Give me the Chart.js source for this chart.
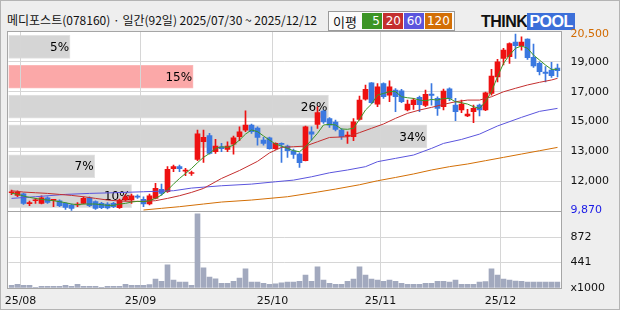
<!DOCTYPE html>
<html>
<head>
<meta charset="utf-8">
<script src="https://cdn.jsdelivr.net/npm/chart.js@4.4.1/dist/chart.umd.min.js"></script>
<style>
  html, body { margin: 0; padding: 0; }
  body { width: 620px; height: 310px; position: relative; overflow: hidden; background: #eeeeee; }
  #outer { position: absolute; left: 0; top: 0; width: 618px; height: 308px; border: 1px solid #b4b4b4; }
  .panel { position: absolute; left: 7px; width: 553px; background: #fff; border: 1px solid #a6a6a6; }
  #pricePanel { top: 31px; height: 179px; }
  #volPanel { top: 211px; height: 76px; }
  canvas { position: absolute; left: 0; top: 0; }
  #title { position: absolute; left: 7px; top: 12px; font: 12px "Noto Sans CJK KR", sans-serif; color: #111; white-space: nowrap; line-height: 16px; }
  #legend { position: absolute; left: 328px; top: 11px; height: 18px; border: 1px solid #9a9a9a; background: #fbfbfb;
            display: flex; align-items: center; padding: 0 2px 0 0; font: 12px "DejaVu Sans", sans-serif; }
  #legend .lbl { margin: 0 4px 0 4px; font: 13px "Noto Sans CJK KR", sans-serif; color: #111; }
  #legend .cell { color: #fff; height: 16px; line-height: 16px; text-align: right; padding: 0 2px; margin-left: 1px; min-width: 16px; }
  #logo { position: absolute; left: 481px; top: 13px; font: bold 16px "Liberation Sans", sans-serif; letter-spacing: -0.5px; line-height: 17px; }
  #logo .think { color: #111; }
  #logo .pool { color: #fff; background: #3c6fd9; padding: 0 2px; }
</style>
</head>
<body>
<div id="outer"></div>
<div id="pricePanel" class="panel"></div>
<div id="volPanel" class="panel"></div>
<div id="title">메디포스트(078160) · 일간(92일) 2025/07/30 ~ 2025/12/12</div>
<div id="legend"><span class="lbl">이평</span></div>
<div id="logo"><span class="think">THINK</span><span class="pool">POOL</span></div>
<canvas id="profile" width="620" height="310"></canvas>
<canvas id="price" width="620" height="310"></canvas>
<canvas id="vol" width="620" height="310"></canvas>
<script>
// trading days shown (2025/07/30 ~ 2025/12/12, 92 days)
const year = '25';
const days = ['07/30','07/31',
  '08/01','08/04','08/05','08/06','08/07','08/08','08/11','08/12','08/13','08/14',
  '08/18','08/19','08/20','08/21','08/22','08/25','08/26','08/27','08/28','08/29',
  '09/01','09/02','09/03','09/04','09/05','09/08','09/09','09/10','09/11','09/12',
  '09/15','09/16','09/17','09/18','09/19','09/22','09/23','09/24','09/25','09/26','09/29','09/30',
  '10/01','10/02','10/10','10/13','10/14','10/15','10/16','10/17','10/20','10/21',
  '10/22','10/23','10/24','10/27','10/28','10/29','10/30','10/31',
  '11/03','11/04','11/05','11/06','11/07','11/10','11/11','11/12','11/13','11/14',
  '11/17','11/18','11/19','11/20','11/21','11/24','11/25','11/26','11/27','11/28',
  '12/01','12/02','12/03','12/04','12/05','12/08','12/09','12/10','12/11','12/12'];

const open = [10940,10780,10880,10280,10460,10300,10640,10480,10460,10300,
  10200,10200,10300,10640,10400,10300,10260,10300,10040,10500,
  10500,10720,10540,10260,10600,11140,11000,12390,12510,12240,
  12100,12950,14010,14380,13410,13710,13550,13870,14310,14710,
  15010,14830,14110,14250,13590,13870,13750,13470,13270,12870,
  14610,15050,15860,15410,15190,14710,14350,14310,15350,16580,
  17560,16280,17520,16820,17120,17080,15920,16240,16680,16200,
  16880,16620,16120,17200,16220,15920,15560,15820,16220,15920,
  16920,17920,19030,19130,20010,19790,20190,19090,18730,18210,
  18330,18450];
const high = [11100,11060,10920,10440,10600,10760,10700,10540,10520,10340,
  10260,10340,10700,10700,10460,10360,10340,10360,10560,10820,
  10860,10820,10700,10860,11500,11460,12510,12610,12610,12410,
  12250,14720,14720,14520,14160,13910,14010,14350,14910,15880,
  15070,14910,14270,14290,13950,13950,13810,13570,13350,14950,
  14910,16120,15920,15470,15310,14810,14610,15410,16760,17420,
  17580,17520,17560,17680,17220,17160,16520,16620,16760,17120,
  17520,16720,17180,17260,16620,16520,15960,16220,16280,17000,
  18370,18970,19630,19970,20500,20330,20210,19890,18830,18530,
  18790,18690];
const low = [10820,10700,10240,10160,10300,10260,10300,10100,10100,9940,
  9870,10100,10260,10100,9940,9980,9960,10040,10000,10440,
  10300,10600,10100,10200,10560,10800,10960,12210,12210,11970,
  11990,12870,12770,13270,13310,13410,13410,13270,14070,14610,
  14510,13810,13810,13570,13550,12770,13070,13010,12470,12850,
  14110,14810,15110,14870,14670,14150,13910,14070,15310,16520,
  16320,16120,16620,16420,15820,16360,15860,15960,15820,16120,
  16220,15600,15920,16480,15280,15760,15520,15160,15560,15880,
  16820,17620,18630,18730,19030,19530,18970,18490,18030,17620,
  17880,17920];
const close = [11000,10980,10300,10310,10500,10640,10360,10520,10160,10060,
  10000,10230,10600,10160,10000,10040,10020,10100,10500,10700,
  10760,10680,10260,10760,11200,10900,12350,12510,12390,12270,
  12130,14480,14280,13310,13750,13590,13750,14250,14610,15010,
  14610,14270,13910,13590,13910,13850,13470,13250,12750,14910,
  14470,15760,15210,15010,14750,14310,14390,15210,16520,17160,
  16360,17320,16720,17320,16720,16420,16280,16520,16240,16860,
  16800,16020,17060,16620,15820,16280,15680,16020,15920,16960,
  17960,18830,19530,19930,19790,20010,19070,18570,18230,18130,
  17990,18290];

// volume, x1000 shares
const volume = [47,65,47,47,12,29,29,29,29,47,
  29,65,29,29,29,12,29,29,29,65,
  47,47,47,59,153,117,399,135,100,100,
  47,1280,346,188,160,82,82,117,170,329,
  100,100,82,65,70,88,100,100,117,223,
  117,364,135,82,65,65,117,153,364,223,
  153,135,117,135,117,82,65,65,65,82,
  82,117,117,100,135,65,65,65,100,110,
  329,223,153,135,120,117,100,100,100,100,
  100,100];

// moving averages (null = not read, line spans the gap)
const ma5 = [10900,10860,10740,10660,10600,10540,10500,10460,10400,10340,
  10260,10220,10260,10260,10260,10220,10180,10180,10260,10300,
  10380,10420,10400,10460,10600,10800,11100,11460,11800,12100,
  12400,12750,13070,13310,13610,13710,13670,13810,14110,14470,
  14720,14620,14360,14110,13870,13750,13610,13470,13410,13710,
  14110,14520,15020,15060,15020,14780,14760,14820,15360,15920,
  16280,16820,16920,17030,17030,16720,16660,16620,16520,16480,
  16560,16520,16620,16620,16420,16360,16280,16120,16020,16420,
  17030,17930,18730,19230,19640,19780,19640,19230,18930,18630,
  18370,18370];
const ma20 = [11060,null,10980,null,10940,null,10900,null,10840,null,
  10780,null,10700,null,10600,null,10500,null,10440,null,
  10420,null,10420,null,10460,null,10600,null,10760,null,
  10960,null,11200,null,null,11800,null,null,12280,null,
  null,12830,null,13340,null,13670,null,13710,null,13750,
  null,14010,null,14270,null,null,14310,null,14560,null,
  14820,null,15080,null,15420,null,15720,null,15920,null,
  16080,null,16260,null,16420,null,16520,null,16520,null,
  16720,null,17020,null,17230,null,17430,null,17590,null,
  17730,17830];
const ma60 = [10600,null,null,null,10700,null,null,null,null,10840,
  null,null,null,10900,null,null,null,10940,null,null,
  null,null,11000,null,null,null,null,11060,null,null,
  11220,null,null,null,null,11360,null,null,null,null,
  11460,null,null,null,11600,null,null,11700,null,null,
  11900,null,null,12140,null,null,12310,null,null,12510,
  null,12810,null,null,13010,null,null,13210,null,null,
  13610,null,13910,null,null,14150,null,null,14470,null,
  null,14960,null,null,null,15480,null,null,15840,null,
  null,16020];
const ma120 = [null,null,null,null,null,null,null,null,null,null,
  null,null,null,null,null,null,null,null,null,null,
  null,null,9900,null,null,10000,null,null,10100,null,
  null,null,10260,null,null,10380,null,null,null,null,
  10500,null,null,null,null,null,10700,null,null,null,
  null,10980,null,null,11160,null,null,null,11420,null,
  null,11660,null,null,11860,null,null,12070,null,null,
  12310,null,null,12510,null,null,12670,null,null,12870,
  null,null,13070,null,null,13270,null,null,13470,null,
  null,13670];

const maNames = ['5', '20', '60', '120'];
const maColors = ['#3c9426', '#c42f2f', '#5b55dd', '#d36f06'];
const maData = [ma5, ma20, ma60, ma120];

// volume by price: share per price band, top band first
const profilePct = [5, 15, 26, 34, 7, 10];

// right axis labels
const priceTicks = [9870, 11637, 13433, 15230, 17027, 18823, 20500];
const priceTickLabels = ['9,870', '12,000', '13,000', '15,000', '17,000', '19,000', '20,500'];
const volumeTicks = [0, 441, 872];
const volumeTickLabels = ['x1000', '441', '872'];

const PRICE_MIN = 9840, PRICE_MAX = 20620;
const UP = '#ee1111', DOWN = '#3a78e0';
const tickFont = { family: 'DejaVu Sans', size: 11 };

Chart.defaults.animation = false;
Chart.defaults.responsive = false;
Chart.defaults.devicePixelRatio = 1;
Chart.defaults.plugins.legend.display = false;
Chart.defaults.plugins.tooltip.enabled = false;

// legend boxes in the header
const legend = document.getElementById('legend');
maNames.forEach((n, i) => {
  const s = document.createElement('span');
  s.className = 'cell';
  s.style.background = maColors[i];
  s.textContent = n;
  legend.appendChild(s);
});

function isMonthStart(i) {
  return i > 0 && i < days.length && days[i].slice(0, 2) !== days[i - 1].slice(0, 2);
}
const monthGrid = c => isMonthStart(c.index) ? '#d6d6d6' : 'rgba(0,0,0,0)';
const candleColor = days.map((d, i) => close[i] >= open[i] ? UP : DOWN);

// volume-by-price bars behind the candles
const bandSize = (PRICE_MAX - PRICE_MIN) / profilePct.length;
const currentBand = Math.floor((PRICE_MAX - close[close.length - 1]) / bandSize);

const profileLabels = {
  id: 'profileLabels',
  afterDatasetsDraw(chart) {
    const ctx = chart.ctx;
    ctx.save();
    ctx.font = '12px "DejaVu Sans"';
    ctx.fillStyle = '#000';
    ctx.textAlign = 'right';
    ctx.textBaseline = 'middle';
    chart.getDatasetMeta(0).data.forEach((bar, i) => {
      ctx.fillText(profilePct[i] + '%', bar.x - 1, bar.y + 1);
    });
    ctx.restore();
  }
};

new Chart(document.getElementById('profile'), {
  type: 'bar',
  data: {
    labels: profilePct.map((p, i) => 'band' + i),
    datasets: [{
      data: profilePct,
      backgroundColor: profilePct.map((p, i) => i === currentBand ? '#fba8a8' : '#d5d5d5'),
      borderColor: profilePct.map((p, i) => i === currentBand ? '#fbb8b8' : '#e2e2e2'),
      borderWidth: 1,
      borderSkipped: false,
      barThickness: 23
    }]
  },
  options: {
    indexAxis: 'y',
    layout: { padding: { left: 8.5, right: 59.5, top: 32, bottom: 99 } },
    scales: {
      x: { display: false, min: 0, max: 44.85 },
      y: { display: false }
    }
  },
  plugins: [profileLabels]
});

// candles + moving averages
new Chart(document.getElementById('price'), {
  type: 'bar',
  data: {
    labels: days,
    datasets: [
      ...maData.map((d, k) => ({
        type: 'line',
        data: d,
        borderColor: maColors[k],
        borderWidth: 1,
        pointRadius: 0,
        spanGaps: true,
        tension: 0,
        order: 0
      })),
      {
        data: days.map((d, i) => [low[i], high[i]]),
        backgroundColor: candleColor,
        barThickness: 1,
        grouped: false,
        order: 2
      },
      {
        data: days.map((d, i) => [open[i], close[i]]),
        backgroundColor: candleColor,
        barThickness: 5,
        minBarLength: 1,
        grouped: false,
        order: 1
      }
    ]
  },
  options: {
    layout: { padding: { left: 8.5, right: 0, top: 32, bottom: 99 } },
    scales: {
      x: {
        offset: true,
        grid: { offset: true, drawTicks: false, color: monthGrid },
        border: { display: false },
        ticks: { display: false, autoSkip: false },
        afterFit: s => { s.height = 0; }
      },
      y: {
        position: 'right',
        min: PRICE_MIN,
        max: PRICE_MAX,
        afterBuildTicks: s => { s.ticks = priceTicks.map(v => ({ value: v })); },
        ticks: {
          padding: 10,
          font: tickFont,
          callback: (v, i) => priceTickLabels[i],
          color: c => c.index === priceTicks.length - 1 ? '#d26a00' : (c.index === 0 ? '#1a1ae6' : '#111')
        },
        grid: {
          drawTicks: false,
          color: c => (c.index === 0 || c.index === priceTicks.length - 1) ? 'rgba(0,0,0,0)' : '#d6d6d6'
        },
        border: { display: false },
        afterFit: s => { s.width = 59.5; }
      }
    }
  }
});

// volume
new Chart(document.getElementById('vol'), {
  type: 'bar',
  data: {
    labels: days,
    datasets: [{ data: volume, backgroundColor: '#a2a9be', barThickness: 5 }]
  },
  options: {
    layout: { padding: { left: 8.5, right: 0, top: 212, bottom: 0 } },
    scales: {
      x: {
        offset: true,
        grid: { offset: true, drawTicks: false, color: monthGrid },
        border: { display: false },
        ticks: {
          autoSkip: false, maxRotation: 0, minRotation: 0, padding: 7, labelOffset: -3,
          font: tickFont, color: '#111',
          callback: (v, i) => isMonthStart(i) ? year + '/' + days[i].slice(0, 2) : ''
        },
        afterFit: s => { s.height = 22; }
      },
      y: {
        position: 'right',
        min: 0,
        max: 1310,
        afterBuildTicks: s => { s.ticks = volumeTicks.map(v => ({ value: v })); },
        ticks: { padding: 10, font: tickFont, color: '#111', callback: (v, i) => volumeTickLabels[i] },
        grid: { drawTicks: false, color: c => c.index === 0 ? 'rgba(0,0,0,0)' : '#d6d6d6' },
        border: { display: false },
        afterFit: s => { s.width = 59.5; }
      }
    }
  }
});
</script>
</body>
</html>
